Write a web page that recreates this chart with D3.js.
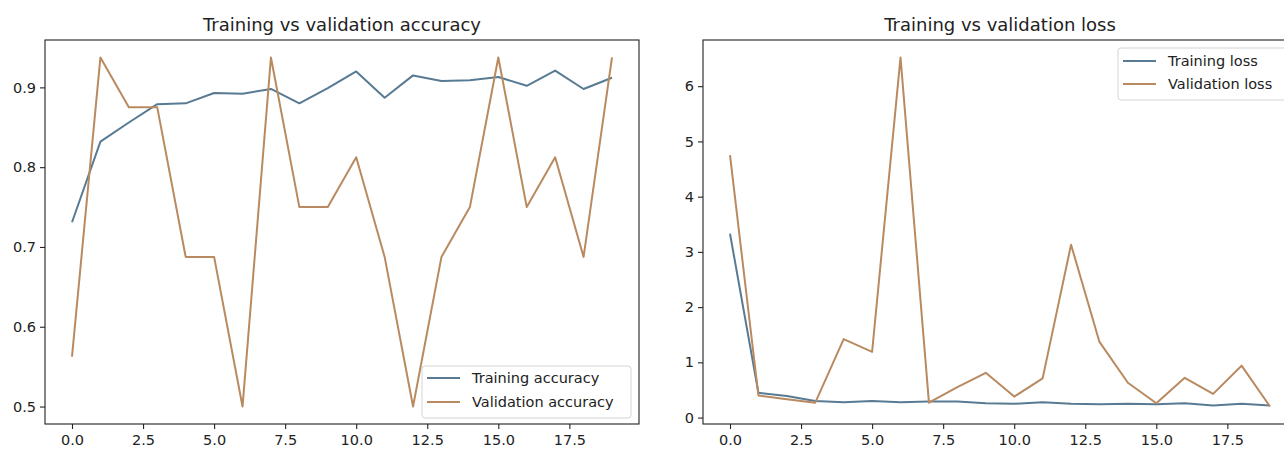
<!DOCTYPE html>
<html>
<head>
<meta charset="utf-8">
<script src="https://cdn.jsdelivr.net/npm/d3@7"></script>
<style>
  html, body { margin: 0; padding: 0; background: #fff; overflow: hidden; }
  svg { display: block; font-family: "DejaVu Sans", sans-serif; }
</style>
</head>
<body>
<div id="chart"></div>
<script>
const epochs = d3.range(0, 20);

const trainAcc = [0.731, 0.832, 0.856, 0.879, 0.880, 0.893, 0.892, 0.898, 0.880, 0.899,
                  0.920, 0.887, 0.915, 0.908, 0.909, 0.913, 0.902, 0.921, 0.898, 0.912];
const valAcc = [0.5625, 0.9375, 0.875, 0.875, 0.6875, 0.6875, 0.5, 0.9375, 0.75, 0.75,
                0.8125, 0.6875, 0.5, 0.6875, 0.75, 0.9375, 0.75, 0.8125, 0.6875, 0.9375];

const trainLoss = [3.33, 0.45, 0.39, 0.30, 0.28, 0.30, 0.28, 0.29, 0.29, 0.26,
                   0.25, 0.28, 0.25, 0.24, 0.25, 0.24, 0.26, 0.22, 0.25, 0.22];
const valLoss = [4.75, 0.40, 0.33, 0.27, 1.42, 1.19, 6.52, 0.27, 0.55, 0.81,
                 0.38, 0.71, 3.13, 1.37, 0.63, 0.26, 0.72, 0.43, 0.94, 0.20];

const xTicks = [0, 2.5, 5, 7.5, 10, 12.5, 15, 17.5];
const accTicks = [0.5, 0.6, 0.7, 0.8, 0.9];
const lossTicks = [0, 1, 2, 3, 4, 5, 6];

const blue = "#587b93";
const brown = "#b98a60";

const W = 1284, H = 451;
const svg = d3.select("#chart").append("svg")
  .attr("width", W).attr("height", H);

// pad a data extent by 5% each side, like matplotlib
function padded(values) {
  const [lo, hi] = d3.extent(values);
  const m = (hi - lo) * 0.05;
  return [lo - m, hi + m];
}

function drawPanel(opts) {
  const { left, top, width, height, title, series, yTicks, yFmt, legendPos, id } = opts;

  const x = d3.scaleLinear().domain(padded(epochs)).range([left, left + width]);
  const y = d3.scaleLinear()
    .domain(padded(series.flatMap((s) => s.values)))
    .range([top + height, top]);

  const g = svg.append("g");

  g.append("clipPath").attr("id", id)
    .append("rect").attr("x", left).attr("y", top).attr("width", width).attr("height", height);

  const line = d3.line().x((d, i) => x(epochs[i])).y((d) => y(d));

  g.selectAll("path.series")
    .data(series)
    .enter()
    .append("path")
    .attr("class", "series")
    .attr("clip-path", `url(#${id})`)
    .attr("d", (s) => line(s.values))
    .attr("fill", "none")
    .attr("stroke", (s) => s.color)
    .attr("stroke-width", 2)
    .attr("stroke-linejoin", "round");

  // frame
  g.append("rect")
    .attr("x", left).attr("y", top).attr("width", width).attr("height", height)
    .attr("fill", "none").attr("stroke", "#222").attr("stroke-width", 1.1);

  const xAxis = g.append("g")
    .attr("transform", `translate(0,${top + height})`)
    .call(d3.axisBottom(x).tickValues(xTicks).tickFormat(d3.format(".1f")).tickSize(5).tickPadding(4));
  const yAxis = g.append("g")
    .attr("transform", `translate(${left},0)`)
    .call(d3.axisLeft(y).tickValues(yTicks).tickFormat(yFmt).tickSize(5).tickPadding(4));

  [xAxis, yAxis].forEach((a) => {
    a.select(".domain").remove();
    a.selectAll(".tick line").attr("stroke", "#222").attr("stroke-width", 1.1);
    a.selectAll(".tick text")
      .attr("fill", "#222")
      .style("font-size", "14.5px")
      .style("font-family", "DejaVu Sans");
  });
  xAxis.selectAll(".tick text").attr("dy", "0.8em");

  g.append("text")
    .attr("x", left + width / 2)
    .attr("y", top - 9)
    .attr("text-anchor", "middle")
    .attr("fill", "#222")
    .style("font-size", "18px")
    .text(title);

  // legend
  const lg = g.append("g").attr("transform", `translate(${legendPos.x},${legendPos.y})`);
  lg.append("rect")
    .attr("width", legendPos.w).attr("height", legendPos.h)
    .attr("rx", 3)
    .attr("fill", "rgba(255,255,255,0.8)")
    .attr("stroke", "#d4d4d4");
  series.forEach((s, i) => {
    const cy = legendPos.first + i * legendPos.step;
    lg.append("line")
      .attr("x1", 5).attr("x2", 38).attr("y1", cy).attr("y2", cy)
      .attr("stroke", s.color).attr("stroke-width", 2);
    lg.append("text")
      .attr("x", 50).attr("y", cy)
      .attr("dy", "0.35em")
      .attr("fill", "#222")
      .style("font-size", "14.5px")
      .text(s.name);
  });
}

drawPanel({
  id: "clipAcc",
  left: 45, top: 40, width: 594, height: 384,
  title: "Training vs validation accuracy",
  series: [
    { name: "Training accuracy", values: trainAcc, color: blue },
    { name: "Validation accuracy", values: valAcc, color: brown },
  ],
  yTicks: accTicks,
  yFmt: d3.format(".1f"),
  legendPos: { x: 422, y: 366, w: 209, h: 52, first: 12, step: 24 },
});

drawPanel({
  id: "clipLoss",
  left: 703, top: 40, width: 594, height: 384,
  title: "Training vs validation loss",
  series: [
    { name: "Training loss", values: trainLoss, color: blue },
    { name: "Validation loss", values: valLoss, color: brown },
  ],
  yTicks: lossTicks,
  yFmt: d3.format("d"),
  legendPos: { x: 1118, y: 48, w: 172, h: 52, first: 13, step: 23 },
});
</script>
</body>
</html>
